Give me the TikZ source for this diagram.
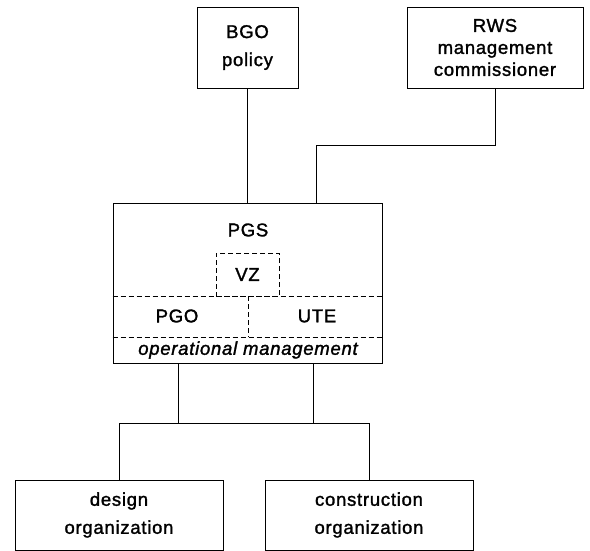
\documentclass[tikz,border=0pt]{standalone}
\usepackage{fontspec}
\setmainfont{Liberation Sans}[LetterSpace=4, FakeBold=1.5]
\usepackage{tikz}
\usetikzlibrary{positioning, calc}

\begin{document}
\begin{tikzpicture}[x=1pt, y=-1pt, line width=0.9pt,
    font=\fontsize{18.5}{28}\selectfont,
    orgbox/.style={draw, rectangle, inner sep=0pt, align=center},
    dashbox/.style={draw, dashed, dash pattern=on 5pt off 3pt, rectangle, inner sep=0pt},
    dashline/.style={dashed, dash pattern=on 5pt off 3pt}]
    \useasboundingbox (0, 0) rectangle (590, 551);
    \node[orgbox, minimum width=101, minimum height=81] (bgo) at (247.5, 47.5) {BGO\\policy};
    \node[orgbox, minimum width=176, minimum height=81, font=\fontsize{18.5}{22}\selectfont] (rws) at (495, 47.5) {RWS\\management\\commissioner};
    \node[orgbox, minimum width=269, minimum height=160] (pgs) at (247.5, 283) {};
    \node (pgslabel) at (248, 230) {PGS};
    \node[dashbox, minimum width=63, minimum height=43] (vz) at (247.5, 274.5) {VZ};
    \draw[dashline] (pgs.west |- 0, 296) -- (pgs.east |- 0, 296);
    \draw[dashline] (pgs.west |- 0, 337) -- (pgs.east |- 0, 337);
    \draw[dashline] (248, 296) -- (248, 337);
    \node (pgo) at (177, 316) {PGO};
    \node (ute) at (317, 316) {UTE};
    \node[font=\fontsize{18.5}{22}\selectfont\itshape] (opman) at (248, 350) {operational management};
    \node[orgbox, minimum width=208, minimum height=70] (design) at (119, 515) {design\\organization};
    \node[orgbox, minimum width=208, minimum height=70] (constr) at (369, 515) {construction\\organization};
    \coordinate (bendR) at (316, 145);
    \coordinate (dropL) at (178, 423);
    \coordinate (dropR) at (313, 423);
    \coordinate (busL) at (design.north |- dropL);
    \coordinate (busR) at (constr.north |- dropL);
    \draw (bgo.south) -- (bgo.south |- pgs.north);
    \draw (rws.south) |- (bendR) -- (bendR |- pgs.north);
    \draw (pgs.south -| dropL) -- (dropL);
    \draw (pgs.south -| dropR) -- (dropR);
    \draw (busL) -- (busR);
    \draw (busL) -- (design.north);
    \draw (busR) -- (constr.north);
\end{tikzpicture}
\end{document}
